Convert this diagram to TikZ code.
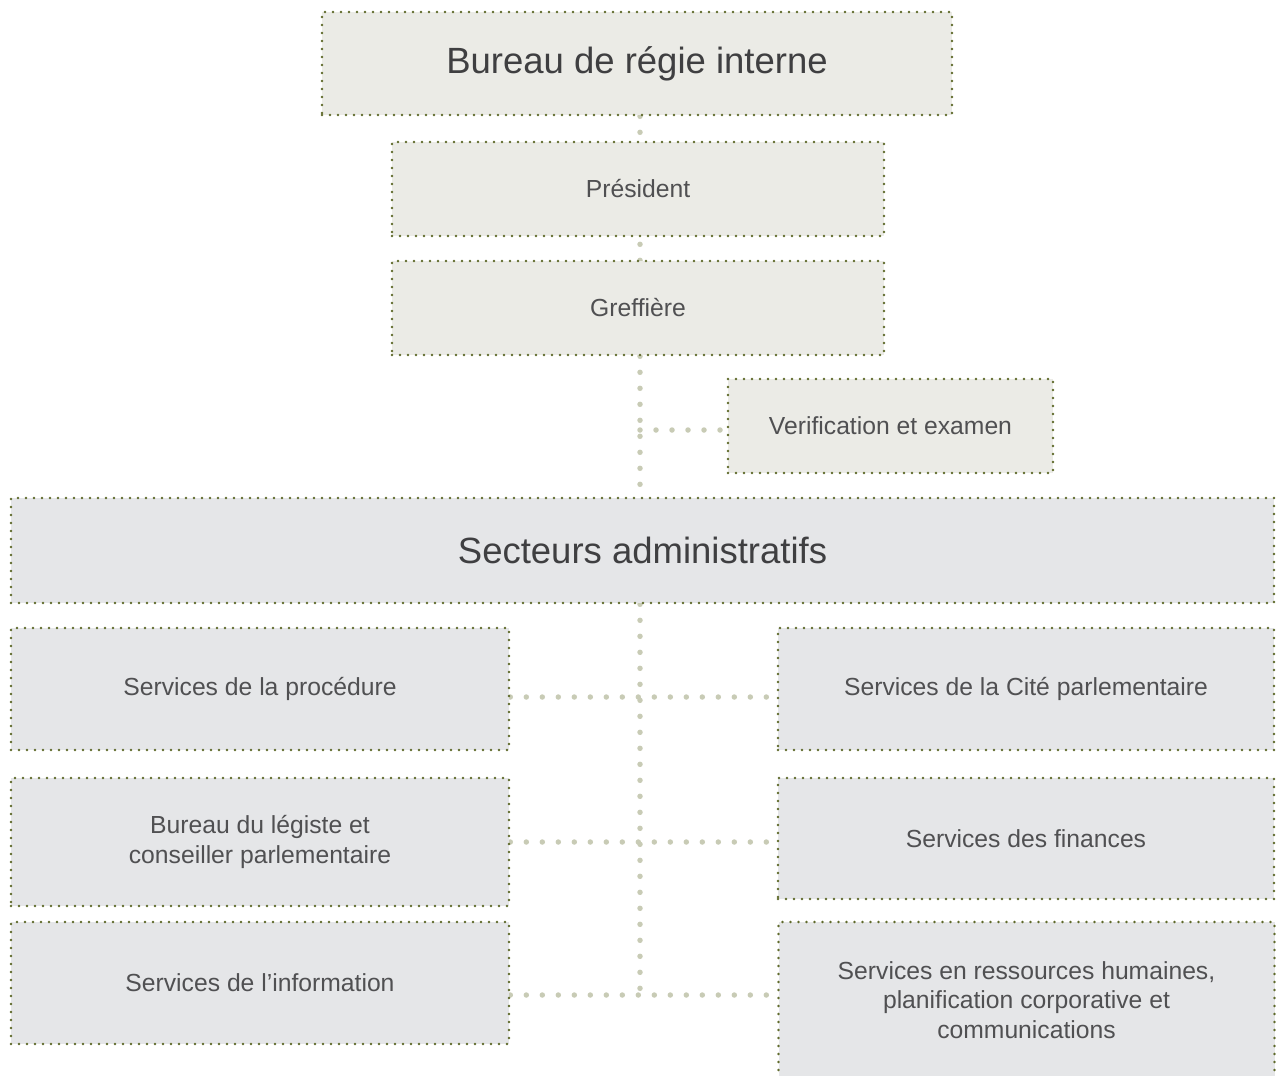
\documentclass[tikz,border=0pt]{standalone}
\usepackage{fontspec}
\setmainfont{Liberation Sans}
\usetikzlibrary{backgrounds}
\definecolor{warmfill}{HTML}{EBEBE6}
\definecolor{coolfill}{HTML}{E5E6E8}
\definecolor{olivedot}{HTML}{5F6A2B}
\definecolor{connc}{HTML}{C8CBB5}
\definecolor{txt}{HTML}{505052}
\definecolor{txtdark}{HTML}{3F3F41}
\begin{document}
\begin{tikzpicture}[x=1pt,y=1pt,
  orgbox/.style={draw=olivedot, line width=2.6pt, line cap=round,
    dash pattern=on 0pt off 8pt, inner sep=0pt, align=center, text=txt,
    font=\fontsize{24.7}{29.5}\selectfont},
  warm/.style={orgbox, fill=warmfill},
  cool/.style={orgbox, fill=coolfill},
  bigtxt/.style={text=txtdark, font=\fontsize{36.5}{42}\selectfont},
  conn/.style={draw=connc, line width=5.5pt, line cap=round,
    dash pattern=on 0pt off 16pt}]
\useasboundingbox (0,0) rectangle (1277,-1076);

% nodes
\node[warm, bigtxt, minimum width=630, minimum height=103] (breg) at (637,-63.5) {Bureau de régie interne};
\node[warm, minimum width=492, minimum height=94] (pres) at (638,-189) {Président};
\node[warm, minimum width=492, minimum height=94] (gref) at (638,-308) {Greffière};
\node[warm, minimum width=325, minimum height=94] (verif) at (890.5,-426) {Verification et examen};
\node[cool, bigtxt, minimum width=1263, minimum height=105] (sect) at (642.5,-550.5) {Secteurs administratifs};
\node[cool, minimum width=498, minimum height=122] (proc) at (260,-689) {Services de la procédure};
\node[cool, minimum width=496, minimum height=122] (cite) at (1026,-689) {Services de la Cité parlementaire};
\node[cool, minimum width=498, minimum height=128] (leg) at (260,-842) {Bureau du légiste et\\conseiller parlementaire};
\node[cool, minimum width=496, minimum height=121] (fin) at (1026,-838.5) {Services des finances};
\node[cool, minimum width=496, minimum height=156] (rh) at (1026.5,-1000) {Services en ressources humaines,\\planification corporative et\\communications};
\node[cool, minimum width=498, minimum height=122] (info) at (260,-983) {Services de l’information};

% helper coordinates
\coordinate (spine) at (640,0);
\coordinate (hv) at (0,-430);
\coordinate (h1) at (0,-697);
\coordinate (h2) at (0,-842);
\coordinate (h3) at (0,-995);

\begin{scope}[on background layer]
  \draw[conn] (breg.south -| spine) -- (sect.north -| spine);
  \draw[conn] (sect.south -| spine) -- (spine |- h3);
  \draw[conn] (spine |- hv) -- (verif.west |- hv);
  \draw[conn] (proc.east |- h1) -- (cite.west |- h1);
  \draw[conn] (leg.east |- h2) -- (fin.west |- h2);
  \draw[conn] (info.east |- h3) -- (rh.west |- h3);
\end{scope}
\end{tikzpicture}
\end{document}
